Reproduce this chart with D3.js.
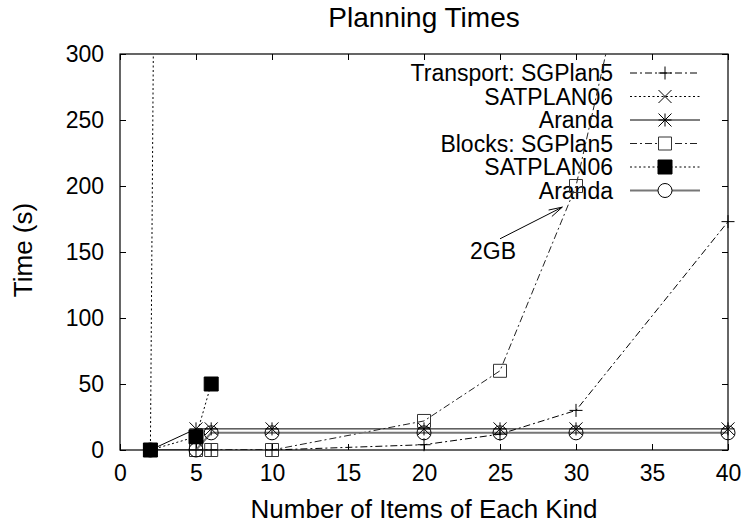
<!DOCTYPE html>
<html>
<head>
<meta charset="utf-8">
<script src="https://cdn.jsdelivr.net/npm/d3@7"></script>
<style>
  body { margin: 0; background: #fff; }
  text { font-family: "Liberation Sans", Arial, Helvetica, sans-serif; fill: #000; }
</style>
</head>
<body>
<div id="chart"></div>
<script>
// Data
var transSGPlanX = [2, 5, 6, 10, 20, 25, 30, 40];
var transSGPlanY = [0, 0, 0, 0, 4, 12, 30, 173];

var transSatX = [2, 5];
var transSatY = [0, 4700];

var transArandaX = [2, 5, 6, 10, 20, 25, 30, 40];
var transArandaY = [0, 16, 16, 16, 16, 16, 16, 16];

var blocksSGPlanX = [2, 5, 6, 10, 20, 25, 30, 35];
var blocksSGPlanY = [0, 0, 0, 0, 22, 60, 200, 455];

var blocksSatX = [2, 5, 6];
var blocksSatY = [0, 10, 50];

var blocksArandaX = [2, 5, 6, 10, 20, 25, 30, 40];
var blocksArandaY = [0, 0, 13, 13, 13, 13, 13, 13];

var xTicks = [0, 5, 10, 15, 20, 25, 30, 35, 40];
var yTicks = [0, 50, 100, 150, 200, 250, 300];

var legendLabels = ["Transport: SGPlan5", "SATPLAN06", "Aranda", "Blocks: SGPlan5", "SATPLAN06", "Aranda"];

// chart area
var margin = {left: 120, right: 17, top: 54, bottom: 75};
var width = 745 - margin.left - margin.right,
    height = 525 - margin.top - margin.bottom;

var svg = d3.select("#chart")
    .append("svg")
        .attr("width", 745)
        .attr("height", 525);

var chartGroup = svg.append("g")
    .attr("transform", `translate(${margin.left}, ${margin.top})`);

var xScale = d3.scaleLinear().domain([0, 40]).range([0, width]);
var yScale = d3.scaleLinear().domain([0, 300]).range([height, 0]);

// marker shapes, stroked like gnuplot points
function markerPath(type, s) {
    if (type === "plus") return `M${-s},0H${s}M0,${-s}V${s}`;
    if (type === "cross") return `M${-s},${-s}L${s},${s}M${-s},${s}L${s},${-s}`;
    if (type === "star") return `M${-s},0H${s}M0,${-s}V${s}M${-s},${-s}L${s},${s}M${-s},${s}L${s},${-s}`;
    if (type === "square" || type === "fsquare") return `M${-s},${-s}H${s}V${s}H${-s}Z`;
    if (type === "circle") return `M${s},0A${s},${s} 0 1,1 ${-s},0A${s},${s} 0 1,1 ${s},0Z`;
}

var series = [
    {xs: transSGPlanX, ys: transSGPlanY, dash: "7,3,2,3", color: "#000", lw: 1, marker: "plus", ms: 6.5, mcolor: "#000"},
    {xs: transSatX, ys: transSatY, dash: "2,2.5", color: "#000", lw: 1, marker: "cross", ms: 6.5, mcolor: "#000"},
    {xs: transArandaX, ys: transArandaY, dash: null, color: "#000", lw: 1, marker: "star", ms: 6.5, mcolor: "#000"},
    {xs: blocksSGPlanX, ys: blocksSGPlanY, dash: "7,3,2,3", color: "#222", lw: 1, marker: "square", ms: 6.5, mcolor: "#333"},
    {xs: blocksSatX, ys: blocksSatY, dash: "2,2.5", color: "#000", lw: 1, marker: "fsquare", ms: 7, mcolor: "#000"},
    {xs: blocksArandaX, ys: blocksArandaY, dash: null, color: "#777", lw: 2, marker: "circle", ms: 7, mcolor: "#000"}
];

chartGroup.append("clipPath")
    .attr("id", "plotClip")
  .append("rect")
    .attr("width", width)
    .attr("height", height);

// axes with inward ticks, mirrored on top and right
var bottomAxis = d3.axisBottom(xScale).tickValues(xTicks).tickSizeInner(-6).tickSizeOuter(0).tickPadding(15);
var leftAxis = d3.axisLeft(yScale).tickValues(yTicks).tickSizeInner(-6).tickSizeOuter(0).tickPadding(16);
var topAxis = d3.axisTop(xScale).tickValues(xTicks).tickSizeInner(-6).tickSizeOuter(0).tickFormat("");
var rightAxis = d3.axisRight(yScale).tickValues(yTicks).tickSizeInner(-6).tickSizeOuter(0).tickFormat("");

chartGroup.append("g").attr("transform", `translate(0, ${height})`).call(bottomAxis);
chartGroup.append("g").call(leftAxis);
chartGroup.append("g").call(topAxis);
chartGroup.append("g").attr("transform", `translate(${width}, 0)`).call(rightAxis);

chartGroup.selectAll(".domain").remove();
chartGroup.selectAll(".tick line").attr("stroke", "#000");
chartGroup.selectAll(".tick text")
    .attr("font-size", "23px")
    .attr("font-family", "'Liberation Sans', Arial, sans-serif")
    .attr("fill", "#000");

// legend
var legend = chartGroup.append("g")
    .attr("transform", `translate(${613 - margin.left}, ${73 - margin.top})`);

legendLabels.forEach(function(label, i) {
    var s = series[i];
    var row = legend.append("g").attr("transform", `translate(0, ${i * 23.5})`);
    row.append("text")
        .attr("text-anchor", "end")
        .attr("y", 8)
        .attr("font-size", "23px")
        .text(label);
    row.append("line")
        .attr("x1", 17).attr("x2", 87)
        .attr("stroke", s.color)
        .attr("stroke-width", s.lw)
        .attr("stroke-dasharray", s.dash);
    row.append("path")
        .attr("transform", "translate(52, 0)")
        .attr("d", markerPath(s.marker, s.ms))
        .attr("fill", s.marker === "fsquare" ? "#000" : (s.marker === "square" || s.marker === "circle" ? "#fff" : "none"))
        .attr("stroke", s.mcolor)
        .attr("stroke-width", 1);
});

// lines
var line = d3.line()
    .x(d => xScale(d[0]))
    .y(d => yScale(d[1]));

var plot = chartGroup.append("g");

series.forEach(function(s) {
    var pts = s.xs.map((x, i) => [x, s.ys[i]]);
    plot.append("path")
        .datum(pts)
        .attr("clip-path", "url(#plotClip)")
        .attr("fill", "none")
        .attr("stroke", s.color)
        .attr("stroke-width", s.lw)
        .attr("stroke-dasharray", s.dash)
        .attr("d", line);
});

series.forEach(function(s) {
    var pts = s.xs.map((x, i) => [x, s.ys[i]]).filter(d => d[1] <= 300);
    plot.selectAll(null)
        .data(pts)
        .enter()
        .append("path")
        .attr("transform", d => `translate(${xScale(d[0])},${yScale(d[1])})`)
        .attr("d", markerPath(s.marker, s.ms))
        .attr("fill", s.marker === "fsquare" ? "#000" : "none")
        .attr("stroke", s.mcolor)
        .attr("stroke-width", 1);
});

// frame
chartGroup.append("rect")
    .attr("width", width)
    .attr("height", height)
    .attr("fill", "none")
    .attr("stroke", "#000")
    .attr("stroke-width", 1.2);

// 2GB annotation
var arrowFrom = [25, 160], arrowTo = [29.1, 184];
var ax1 = xScale(arrowFrom[0]), ay1 = yScale(arrowFrom[1]);
var ax2 = xScale(arrowTo[0]), ay2 = yScale(arrowTo[1]);
var ang = Math.atan2(ay2 - ay1, ax2 - ax1);
var headLen = 14, headAng = 0.26;
chartGroup.append("path")
    .attr("fill", "none")
    .attr("stroke", "#000")
    .attr("stroke-width", 1)
    .attr("d", `M${ax1},${ay1}L${ax2},${ay2}` +
        `M${ax2 - headLen * Math.cos(ang - headAng)},${ay2 - headLen * Math.sin(ang - headAng)}L${ax2},${ay2}` +
        `L${ax2 - headLen * Math.cos(ang + headAng)},${ay2 - headLen * Math.sin(ang + headAng)}`);

chartGroup.append("text")
    .attr("x", xScale(23.03))
    .attr("y", yScale(144.7))
    .attr("font-size", "23px")
    .text("2GB");

// title and axis labels
svg.append("text")
    .attr("x", margin.left + width / 2)
    .attr("y", 27)
    .attr("text-anchor", "middle")
    .attr("font-size", "28px")
    .text("Planning Times");

svg.append("text")
    .attr("x", margin.left + width / 2)
    .attr("y", 518)
    .attr("text-anchor", "middle")
    .attr("font-size", "26px")
    .text("Number of Items of Each Kind");

svg.append("text")
    .attr("transform", "translate(32, 250) rotate(-90)")
    .attr("text-anchor", "middle")
    .attr("font-size", "26px")
    .text("Time (s)");
</script>
</body>
</html>
